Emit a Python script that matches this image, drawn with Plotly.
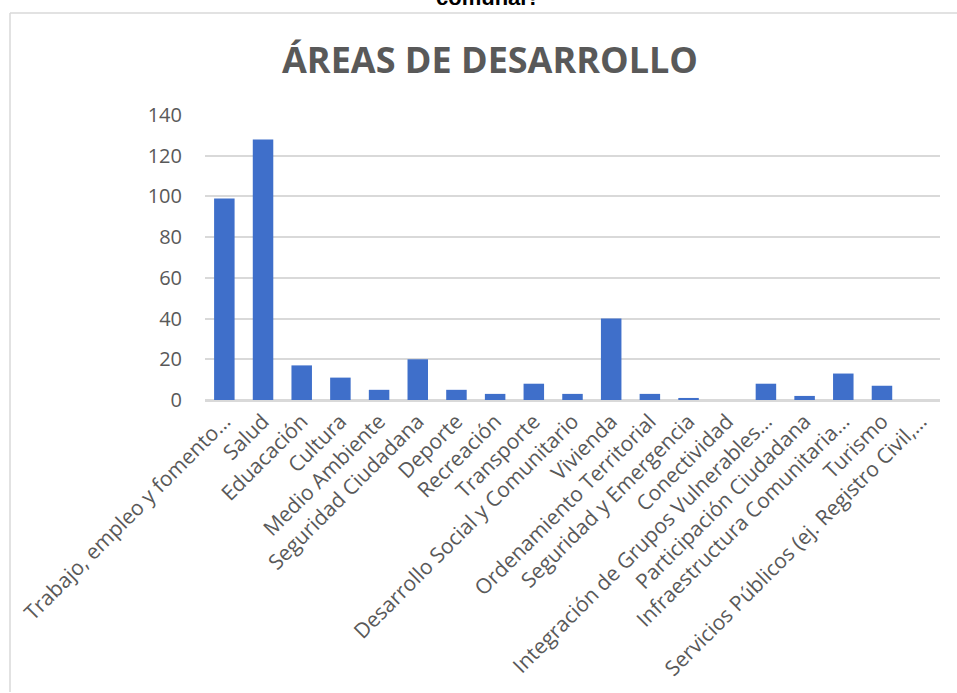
import plotly.graph_objects as go

categories = [
    "Trabajo, empleo y fomento…", "Salud", "Eduacación", "Cultura", "Medio Ambiente",
    "Seguridad Ciudadana", "Deporte", "Recreación", "Transporte",
    "Desarrollo Social y Comunitario", "Vivienda", "Ordenamiento Territorial",
    "Seguridad y Emergencia", "Conectividad", "Integración de Grupos Vulnerables…",
    "Participación Ciudadana", "Infraestructura Comunitaria…", "Turismo",
    "Servicios Públicos (ej. Registro Civil,…",
]
values = [99, 128, 17, 11, 5, 20, 5, 3, 8, 3, 40, 3, 1, 0, 8, 2, 13, 7, 0]
y_ticks = [0, 20, 40, 60, 80, 100, 120, 140]

W, H = 957, 693
L, R, T, B = 205, 17, 115, 290
PH = H - T - B
PW = W - L - R

def py(pix):
    return 1 + (T - pix) / PH

def px(pix):
    return (pix - L) / PW

fig = go.Figure()
fig.add_trace(go.Bar(
    x=categories, y=values,
    marker=dict(color="#3f6fca", line=dict(width=0)),
    hoverinfo="x+y",
))

fig.update_layout(
    width=W, height=H,
    margin=dict(l=L, r=R, t=T, b=B),
    paper_bgcolor="white", plot_bgcolor="white",
    bargap=0.47,
    showlegend=False,
    font=dict(family="Open Sans", color="#595959"),
    title=dict(
        text="<b>ÁREAS DE DESARROLLO</b>",
        xref="container", x=490 / W, xanchor="center",
        yref="container", y=1 - 60 / H, yanchor="middle",
        font=dict(family="Open Sans", size=36, color="#595959"),
    ),
)

fig.update_xaxes(
    type="category", range=[-0.5, len(categories) - 0.5],
    tickangle=-45, tickfont=dict(size=21, color="#595959", family="Open Sans"),
    showgrid=False, showline=False, ticks="", ticklabelstandoff=4,
)
fig.update_yaxes(
    range=[0, 140], tickvals=y_ticks,
    tickfont=dict(size=20, color="#595959", family="Open Sans"),
    showgrid=True, gridcolor="#d9d9d9", gridwidth=1.5,
    zeroline=True, zerolinecolor="#d9d9d9", zerolinewidth=2.5,
    showline=False, ticks="", ticklabelstandoff=22,
)

# outer chart frame (left and top edges visible, the rest runs off the page)
fig.add_shape(
    type="line", xref="paper", yref="paper",
    x0=px(10), x1=px(10), y0=py(H + 5), y1=py(12),
    line=dict(color="#d9d9d9", width=1.5), layer="below",
)
fig.add_shape(
    type="line", xref="paper", yref="paper",
    x0=px(10), x1=px(W + 5), y0=py(12), y1=py(12),
    line=dict(color="#d9d9d9", width=1.5), layer="below",
)

# cut-off heading text above the chart
fig.add_annotation(
    text="<b>comunal?</b>", xref="paper", yref="paper",
    x=px(488), y=py(11), xanchor="center", yanchor="bottom",
    showarrow=False,
    font=dict(family="Liberation Sans", size=22, color="#000000"),
)

fig.write_html(
    "out.html",
    config={"displayModeBar": False},
    post_script="document.body.style.margin='0';document.body.style.overflow='hidden';",
)
